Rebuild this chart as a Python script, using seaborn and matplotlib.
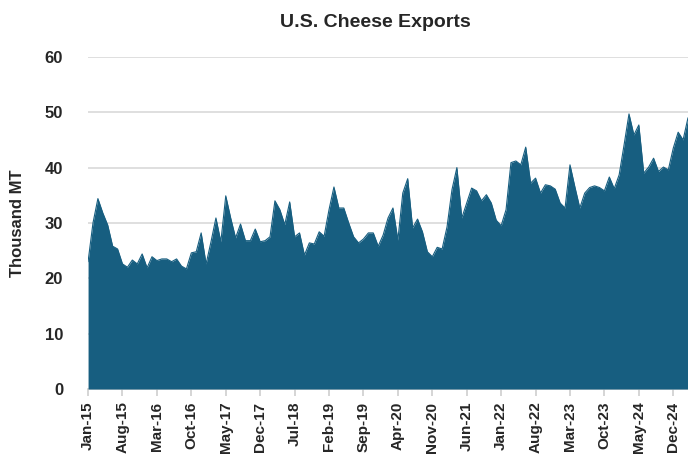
import numpy as np
import pandas as pd
import matplotlib
matplotlib.use("Agg")
import matplotlib.pyplot as plt
import seaborn as sns

start_month = "2015-01-01"
exports = [
    23.0, 30.0, 34.4, 31.8, 29.6, 25.8, 25.3, 22.6, 22.0, 23.3, 22.6, 24.4,
    21.9, 23.9, 23.2, 23.5, 23.5, 23.0, 23.5, 22.2, 21.7, 24.6, 24.8, 28.2,
    22.6, 26.6, 30.9, 26.6, 34.9, 30.9, 27.3, 29.8, 26.8, 26.8, 28.9, 26.6,
    26.8, 27.5, 34.0, 32.4, 29.7, 33.8, 27.5, 28.2, 24.2, 26.4, 26.2, 28.4,
    27.6, 32.4, 36.5, 32.7, 32.7, 30.0, 27.5, 26.4, 27.1, 28.2, 28.2, 25.8,
    27.8, 30.9, 32.7, 26.9, 35.4, 38.0, 29.1, 30.7, 28.4, 24.8, 23.9, 25.6,
    25.3, 29.3, 36.0, 40.0, 30.9, 33.6, 36.3, 35.8, 34.0, 35.1, 33.6, 30.5,
    29.5, 32.4, 40.9, 41.2, 40.5, 43.7, 37.2, 38.1, 35.4, 36.9, 36.7, 36.1,
    33.6, 32.7, 40.5, 36.5, 32.7, 35.4, 36.4, 36.7, 36.4, 35.8, 38.3, 36.2,
    38.7, 44.1, 49.7, 45.9, 47.7, 39.0, 40.1, 41.7, 39.3, 40.1, 39.6, 43.5,
    46.4, 45.0, 49.0,
]
y_ticks = [0, 10, 20, 30, 40, 50, 60]
title = "U.S. Cheese Exports"
y_label = "Thousand MT"

dates = pd.date_range(start_month, periods=len(exports), freq="MS")
df = pd.DataFrame({"idx": np.arange(len(exports)), "value": exports,
                   "label": dates.strftime("%b-%y")})

sns.set_theme(style="white")
plt.rcParams["font.family"] = ["Liberation Sans", "DejaVu Sans"]

color = "#175E80"
fig = plt.figure(figsize=(6.88, 4.59), dpi=100)
ax = fig.add_axes([0.128, 0.1525, 0.872, 0.7235])

sns.lineplot(data=df, x="idx", y="value", color=color, linewidth=0.8, ax=ax, zorder=3)
ax.fill_between(df["idx"], df["value"], 0, color=color, linewidth=0, zorder=3)

ax.set_xlim(0, len(exports) - 1)
ax.set_ylim(0, 60)
ax.set_yticks(y_ticks)
ax.set_yticklabels([str(t) for t in y_ticks], fontsize=12, fontweight="bold")
tick_idx = df["idx"][::7]
ax.set_xticks(tick_idx)
ax.set_xticklabels(df["label"][::7], rotation=90, fontsize=11, fontweight="bold")

ax.yaxis.grid(True, color="#d9d9d9", linewidth=1.2, zorder=0)
ax.xaxis.grid(False)
for s in ["top", "right", "left"]:
    ax.spines[s].set_visible(False)
ax.spines["bottom"].set_color("#d0d0d0")
ax.tick_params(axis="x", length=5, color="#d0d0d0", pad=4, bottom=True)
ax.tick_params(axis="y", length=0, pad=18)
ax.set_xlabel("")
ax.set_ylabel(y_label, fontsize=12, fontweight="bold", labelpad=14)
fig.text(0.545, 0.952, title, ha="center", va="center", fontsize=14, fontweight="bold")

fig.savefig("out.png", dpi=100)
